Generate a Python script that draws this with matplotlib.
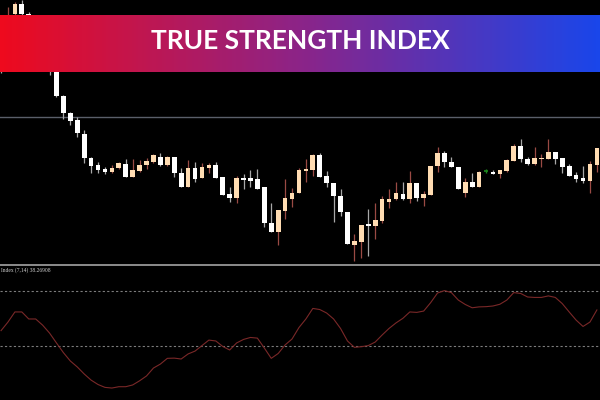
import numpy as np
import matplotlib
matplotlib.use("Agg")
import matplotlib.pyplot as plt
from matplotlib.colors import LinearSegmentedColormap

# OHLC candles (price units, left to right)
opens = [230, 210, 251, 261, 251, 235, 220, 208, 193, 169, 152, 145, 131, 107, 100, 96,
         93, 97, 101, 88, 94, 100, 103, 108, 100, 108, 92, 78, 97, 87, 97, 100,
         88, 71, 67, 87, 87, 86, 78, 42, 33, 54, 66, 72, 94, 95, 110, 89,
         82, 69, 53, 20, 23, 41, 39, 44, 63, 66, 71, 66, 82, 67, 70, 99,
         112, 103, 98, 72, 83, 78, 94, 93, 91, 94, 104, 119, 106, 101, 106, 106,
         113, 107, 99, 90, 87, 84, 100]
highs = [235, 258, 263, 265, 253, 237, 222, 210, 197, 170, 153, 148, 135, 108, 103, 98,
         100, 103, 106, 106, 105, 107, 111, 112, 109, 108, 97, 105, 103, 102, 102, 103,
         88, 78, 89, 91, 95, 96, 78, 62, 55, 86, 77, 97, 106, 111, 112, 94,
         82, 76, 53, 31, 40, 56, 62, 69, 76, 83, 83, 94, 82, 74, 99, 118,
         114, 108, 98, 87, 92, 94, 96, 95, 95, 106, 121, 126, 108, 118, 111, 126,
         113, 107, 101, 93, 99, 104, 117]
lows = [192, 205, 245, 249, 232, 217, 205, 190, 168, 146, 140, 128, 102, 92, 92, 91,
        92, 96, 88, 88, 93, 96, 102, 99, 99, 88, 78, 78, 83, 87, 92, 87,
        70, 63, 62, 76, 78, 76, 38, 33, 20, 46, 58, 72, 83, 89, 88, 78,
        43, 49, 21, 4, 7, 9, 26, 42, 57, 65, 65, 62, 64, 59, 70, 93,
        98, 98, 76, 68, 78, 78, 92, 91, 87, 93, 104, 103, 100, 100, 98, 106,
        101, 92, 89, 83, 82, 72, 93]
closes = [205, 245, 261, 251, 235, 220, 208, 195, 169, 152, 144, 132, 107, 99, 95, 93,
          97, 102, 88, 95, 100, 104, 110, 100, 108, 92, 78, 97, 86, 98, 100, 87,
          70, 67, 87, 85.5, 84, 76, 42, 33, 55, 67, 72, 95, 96, 110, 88, 82,
          69, 53, 21, 24, 40, 39, 45, 66, 66, 72, 66, 82, 67, 71, 99, 112,
          103, 98, 76, 83, 78, 93, 94, 91, 95, 105, 119, 106, 101, 107, 107, 113,
          106, 98, 89, 86, 84, 101, 117]

# True Strength Index values, one per candle
tsi = [32.0, 35.9, 40.5, 40.5, 37.3, 37.3, 34.5, 30.9, 26.4, 22.0, 18.2, 15.5, 12.3, 9.5, 7.5, 6.2,
       5.9, 6.5, 6.5, 7.3, 9.2, 11.4, 15.0, 16.8, 19.4, 19.5, 19.1, 21.4, 22.7, 25.2, 27.7, 27.3,
       24.8, 23.2, 26.4, 28.0, 28.9, 28.6, 24.1, 19.4, 21.6, 25.5, 28.2, 33.4, 37.3, 42.1, 41.6, 40.0,
       37.3, 33.0, 27.3, 24.4, 24.7, 25.2, 26.8, 30.0, 33.0, 35.5, 37.6, 40.5, 40.3, 40.9, 44.7, 49.1,
       50.2, 49.3, 45.9, 43.9, 42.4, 42.8, 42.9, 43.2, 44.0, 45.9, 49.3, 48.9, 47.3, 47.1, 47.1, 47.8,
       47.1, 44.3, 40.5, 36.8, 33.9, 35.9, 41.4]
tsi_levels = [50, 25]
tsi_label = "Index (7,14) 38.26908"
price_line = 148
title = "TRUE STRENGTH INDEX"

bull_body = "#ffdcb2"
bull_wick = "#9a4a44"
bear_body = "#ffffff"
bear_wick = "#a8a8a8"
doji_color = "#1e8a1e"

x = np.arange(len(opens))
xlim = (-0.15, 86.45)

fig = plt.figure(figsize=(6, 4), dpi=100, facecolor="black")

# price pane
ax = fig.add_axes([0, 137 / 400, 1, 263 / 400])
ax.set_facecolor("black")
ax.set_xlim(*xlim)
ax.set_ylim(2, 265)
ax.axhline(price_line, color="#5a5f6a", lw=1.0, zorder=1)

for i in x:
    o, h, l, c = opens[i], highs[i], lows[i], closes[i]
    if o == c:
        ax.vlines(i, l, h, color=doji_color, lw=1.0, zorder=2)
        ax.hlines(c, i - 0.35, i + 0.35, color=doji_color, lw=1.2, zorder=3)
        continue
    up = c > o
    ax.vlines(i, l, h, color=bull_wick if up else bear_wick, lw=0.9, zorder=2)
    lo, hi = min(o, c), max(o, c)
    ax.bar(i, max(hi - lo, 1.0), bottom=lo, width=0.68,
           color=bull_body if up else bear_body, edgecolor="none", zorder=3)
ax.axis("off")

# TSI pane
ax2 = fig.add_axes([0, 0, 1, 136 / 400])
ax2.set_facecolor("black")
ax2.set_xlim(*xlim)
ax2.set_ylim(0.46, 62.3)
for lv in tsi_levels:
    ax2.axhline(lv, color="#7c7c7c", lw=0.8, ls=(0, (2, 2)))
ax2.axhline(61.9, color="#8c8c8c", lw=1.4)
ax2.plot(x, tsi, color="#7a2828", lw=0.8)
ax2.text(0.0, 59.6, tsi_label, color="#d0d0d0", fontsize=4.0,
         family="Liberation Serif", ha="left", va="center")
ax2.axis("off")

# gradient title banner
ax3 = fig.add_axes([0, 1 - 72 / 400, 1, 57 / 400])
cmap = LinearSegmentedColormap.from_list("banner", ["#ee0a1e", "#8c2488", "#1a46ea"])
ax3.imshow(np.linspace(0, 1, 300)[None, :], aspect="auto", cmap=cmap,
           extent=[0, 1, 0, 1])
ax3.text(0.5, 0.54, title, color="white", fontsize=19, fontweight="bold",
         family="Lato", ha="center", va="center")
ax3.axis("off")

fig.savefig("out.png", dpi=100, facecolor="black")
